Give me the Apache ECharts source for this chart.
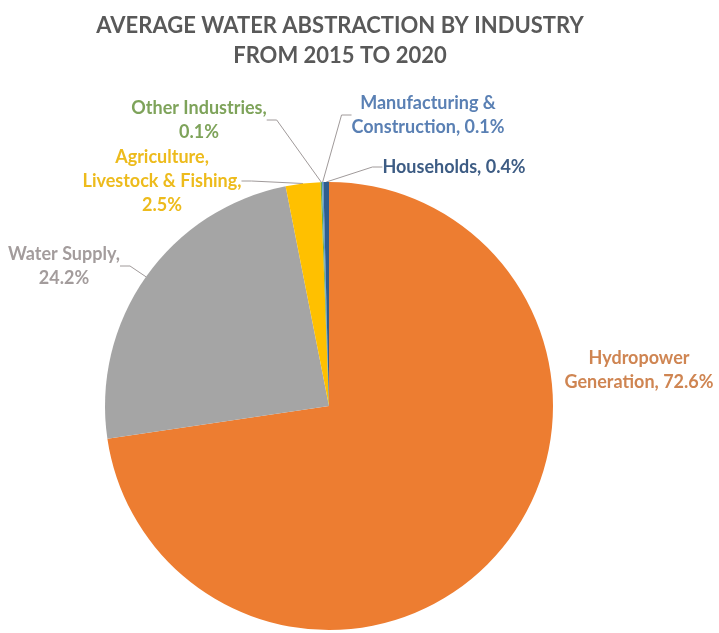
<!DOCTYPE html>
<html>
<head>
<meta charset="utf-8">
<script src="https://cdn.jsdelivr.net/npm/echarts@6/dist/echarts.min.js"></script>
<style>
  html, body { margin: 0; padding: 0; background: #ffffff; }
  #chart { width: 719px; height: 633px; }
</style>
</head>
<body>
<div id="chart"></div>
<script>
// Average share of water abstraction by industry, 2015-2020 (%), clockwise from 12 o'clock
const industries = [
  'Hydropower\nGeneration',
  'Water Supply',
  'Agriculture,\nLivestock & Fishing',
  'Other Industries',
  'Manufacturing &\nConstruction',
  'Households'
];
const shares = [72.6, 24.2, 2.5, 0.1, 0.1, 0.4];
// text placed between the name and the percentage in each label
const separators = [', ', ',\n', ',\n', ',\n', ', ', ', '];

const sliceColors = ['#ED7D31', '#A5A5A5', '#FFC000', '#70AD47', '#5B9BD5', '#2F5E8E'];
const labelColors = ['#CF8552', '#A39C9C', '#EDBB1C', '#7EA35A', '#5A80B4', '#3D5C84'];

// label centres (px) and whether a leader line is drawn
const labelCentres = [[639, 370], [64, 266], [162, 181], [199, 120], [428, 115], [454, 167]];
const leaderShown = [false, true, true, true, true, true];

const chart = echarts.init(document.getElementById('chart'), null, { renderer: 'canvas' });

const FONT = 'Lato, "Open Sans", sans-serif';

chart.setOption({
  animation: false,
  backgroundColor: '#ffffff',
  title: {
    text: 'AVERAGE WATER ABSTRACTION BY INDUSTRY\nFROM 2015 TO 2020',
    left: 335,
    top: 6,
    textAlign: 'center',
    textStyle: {
      fontFamily: FONT,
      fontWeight: 'bold',
      fontSize: 22,
      lineHeight: 30,
      color: '#595959'
    }
  },
  series: [{
    type: 'pie',
    center: [329, 406],
    radius: 224,
    startAngle: 90,
    clockwise: true,
    avoidLabelOverlap: false,
    minShowLabelAngle: 0,
    itemStyle: { borderWidth: 0 },
    label: {
      show: true,
      position: 'outside',
      fontFamily: FONT,
      fontWeight: 'bold',
      fontSize: 18,
      lineHeight: 24,
      align: 'center'
    },
    labelLine: {
      show: true,
      length: 12,
      length2: 10,
      smooth: false,
      lineStyle: { color: '#A09A9A', width: 1 }
    },
    labelLayout: function (params) {
      const c = labelCentres[params.dataIndex];
      return { x: c[0], y: c[1], align: 'center', verticalAlign: 'middle' };
    },
    data: industries.map(function (name, i) {
      return {
        name: name,
        value: shares[i],
        itemStyle: { color: sliceColors[i] },
        label: {
          color: labelColors[i],
          formatter: function (p) {
            return p.name + separators[p.dataIndex] + p.value + '%';
          }
        },
        labelLine: { show: leaderShown[i] }
      };
    })
  }]
});
</script>
</body>
</html>
